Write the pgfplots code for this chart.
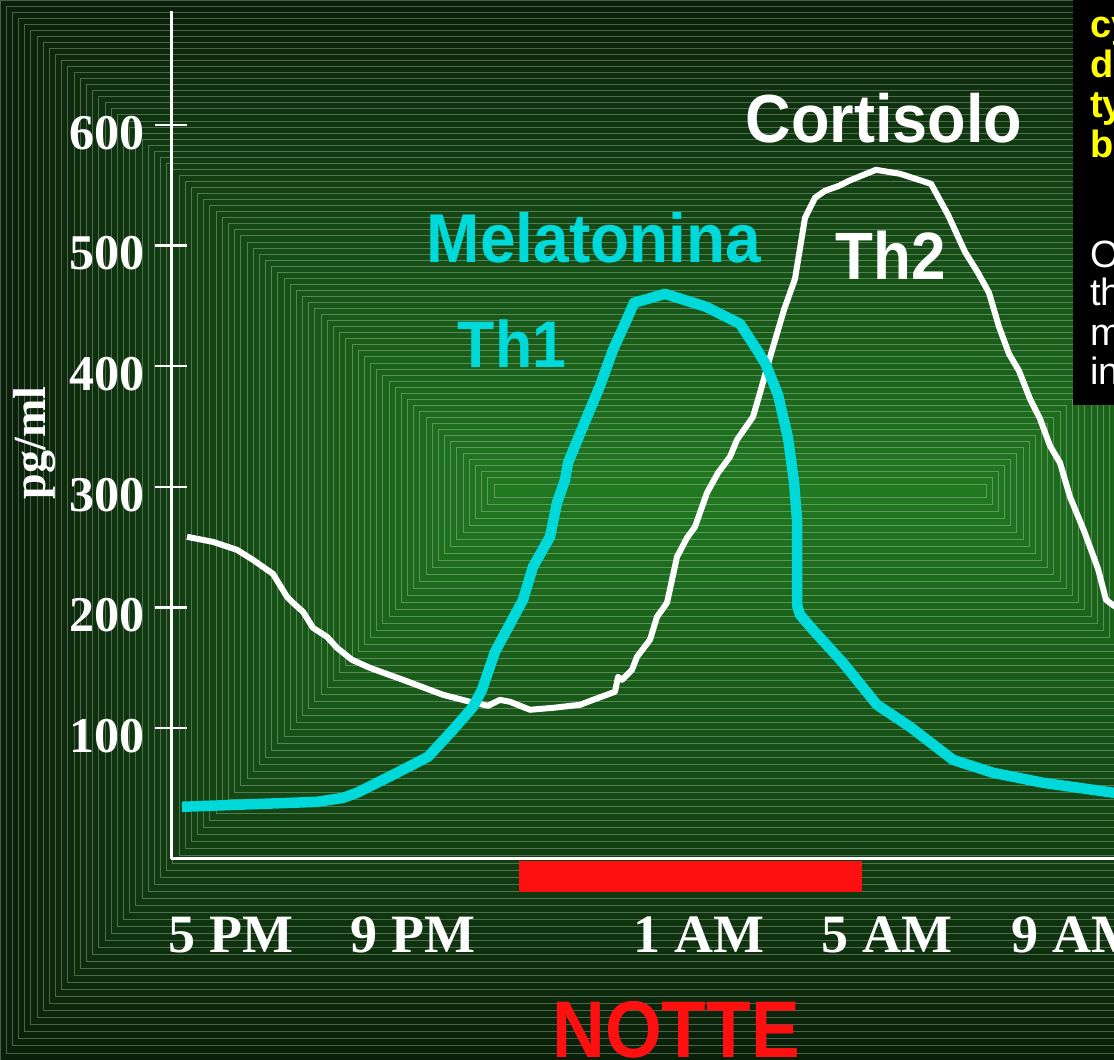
\documentclass[border=0pt]{standalone}
\usepackage{pgfplots}
\pgfplotsset{compat=1.18}
\usepackage{fontspec}
\usepackage{graphicx}
\setmainfont{Liberation Serif}
\newfontfamily\arial{Liberation Sans}

\definecolor{bgout}{RGB}{9,31,9}
\definecolor{bgin}{RGB}{32,120,32}
\definecolor{melcol}{RGB}{0,217,217}
\definecolor{nightred}{RGB}{255,16,16}
\definecolor{noteyellow}{RGB}{255,255,0}

\newcommand{\fsz}[1]{\fontsize{#1}{#1}\selectfont}

\begin{document}
\begin{tikzpicture}[x=1pt,y=1pt]
\clip (0,0) rectangle (1114,1060);

% banded rectangular gradient of the slide background
\foreach \k in {0,...,80}{
  \pgfmathsetmacro\t{\k/80}
  \pgfmathsetmacro\pct{100*\t}
  \filldraw[fill=bgin!\pct!bgout, draw=white, draw opacity=0.28, line width=0.9pt]
    (494*\t, 563*\t) rectangle (1480-494*\t, 1060-484*\t);
}

% side note box
\fill[black] (1073,655) rectangle (1120,1060);
\begin{scope}[every node/.style={anchor=base west, inner sep=0pt}]
  \node[text=noteyellow, font=\arial\bfseries\fsz{38}] at (1090,1022) {cy};
  \node[text=noteyellow, font=\arial\bfseries\fsz{38}] at (1090,982) {d};
  \node[text=noteyellow, font=\arial\bfseries\fsz{38}] at (1090,942) {ty};
  \node[text=noteyellow, font=\arial\bfseries\fsz{38}] at (1090,902) {b};
  \node[text=white, font=\arial\fsz{38}] at (1090,792) {O};
  \node[text=white, font=\arial\fsz{38}] at (1090,754) {th};
  \node[text=white, font=\arial\fsz{38}] at (1090,714) {m};
  \node[text=white, font=\arial\fsz{38}] at (1090,675) {in};
\end{scope}

\begin{axis}[
  at={(171.5,166.9)}, anchor=south west,
  scale only axis, width=942.5pt, height=847.7pt,
  xmin=171.5, xmax=1114, ymin=-8, ymax=694.4,
  axis x line*=bottom, axis y line*=left,
  axis line style={white, line width=2.6pt},
  tick style={white, line width=2.2pt},
  ytick={100,200,300,400,500,600},
  yticklabels={100,200,300,400,500,600},
  ytick align=center, major tick length=32pt,
  xtick=\empty,
  minor xtick={235,459,667,859,1035},
  minor tick length=15pt, xtick align=inside,
  extra x ticks={231,413,699,887,1077},
  extra x tick labels={5 PM,9 PM,1 AM,5 AM,9 AM},
  extra x tick style={major tick length=0pt,
    xticklabel style={anchor=base, inner sep=0pt, yshift=-93.6pt}},
  /pgf/number format/assume math mode=true,
  ticklabel style={text=white, font=\bfseries\fsz{54}},
  yticklabel style={anchor=east, inner sep=0pt, xshift=-10.5pt, yshift=-8pt, font=\bfseries\fsz{50}},
  ylabel={pg/ml},
  every axis y label/.style={at={(axis description cs:-0.1448,0.4904)}, anchor=center, rotate=90,
    text=white, font=\bfseries\fsz{46}},
]
% Cortisolo
\addplot[white, line width=6pt, line join=round] coordinates {
(187,258.6)(213,254.4)(237,247.8)(253,239.5)(273,227.9)(287,208.9)(293,203.9)(303,196.5)
(313,183.2)(327,175.7)(337,166.6)(352,156.7)(370,150.0)(403,140.1)(443,127.7)(470,121.9)
(488,118.6)(500,123.5)(510,121.9)(530,115.3)(553,116.9)(580,119.4)(593,123.5)(615,130.2)
(618,142.6)(622,140.1)(632,148.4)(637,159.2)(650,173.3)(657,192.3)(667,203.9)(677,242.0)
(687,257.8)(695,266.9)(707,295.1)(718,311.6)(730,324.9)(737,339.0)(753,358.0)(760,377.9)
(771,410.2)(784,446.7)(795,472.4)(805,522.9)(815,539.5)(825,545.3)(839,549.4)(849,553.6)
(876,562.7)(900,559.4)(931,551.1)(948,525.4)(965,494.7)(978,477.3)(989,460.8)(999,432.6)
(1009,410.2)(1019,396.1)(1030,372.9)(1040,356.4)(1050,334.0)(1060,319.9)(1070,291.7)
(1084,263.6)(1098,232.1)(1106,206.4)(1114,201.4)(1125,196.5)
};
% Melatonina
\addplot[melcol, line width=10.5pt, line join=round] coordinates {
(182,34.9)(317,39.0)(343,42.3)(357,46.5)(397,63.1)(428,76.3)(453,98.7)(473,117.7)
(482,131.8)(495,163.3)(523,206.4)(533,233.7)(550,258.6)(557,286.8)(565,305.8)(568,319.9)
(587,358.0)(600,383.7)(613,413.5)(628,440.9)(634,452.5)(665,459.9)(706,449.2)(740,435.1)
(757,413.5)(766,401.1)(778,376.3)(788,340.6)(794,304.2)(797,272.7)(797,202.3)(800,194.0)
(813,181.5)(843,154.2)(877,119.4)(910,101.2)(953,73.8)(993,63.1)(1043,54.8)(1114,46.5)
(1130,44.5)
};
\end{axis}

% night bar
\fill[nightred] (519,168) rectangle (862,199);

% series names
\begin{scope}[every node/.style={anchor=base, inner sep=0pt}]
  \node[text=white, font=\arial\bfseries\fsz{63}] at (884,917) {\scalebox{1}[1.08]{Cortisolo}};
  \node[text=white, font=\arial\bfseries\fsz{62}] at (891,780) {\scalebox{1}[1.08]{Th2}};
  \node[text=melcol, font=\arial\bfseries\fsz{64}] at (594,797) {\scalebox{1}[1.08]{Melatonina}};
  \node[text=melcol, font=\arial\bfseries\fsz{61}] at (512,692) {\scalebox{1}[1.08]{Th1}};
  \node[text=nightred, font=\arial\bfseries\fsz{73}] at (676,2) {\scalebox{1}[1.1]{NOTTE}};
\end{scope}
\end{tikzpicture}
\end{document}
